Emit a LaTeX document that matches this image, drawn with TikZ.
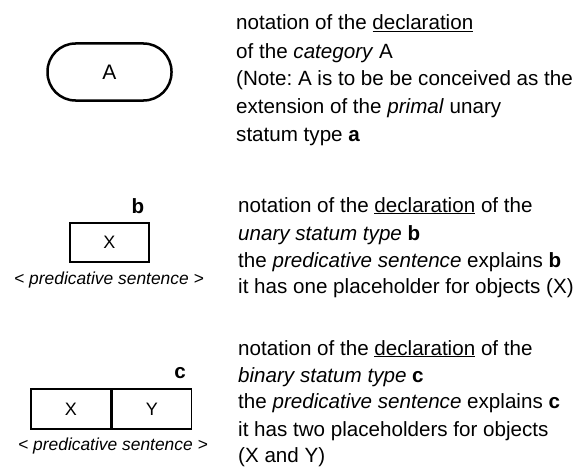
\documentclass[tikz,border=0pt]{standalone}
\usepackage{fontspec}
\setmainfont{Liberation Sans}
\frenchspacing
\begin{document}
\begin{tikzpicture}[x=1pt,y=-1pt,
  txt/.style={anchor=base west, inner sep=0pt, font=\fontsize{20.6}{24}\selectfont},
  lbl/.style={anchor=base, inner sep=0pt, font=\fontsize{20.6}{24}\selectfont\bfseries},
  pred/.style={anchor=base, inner sep=0pt, font=\fontsize{17.4}{20}\selectfont\itshape},
  cell/.style={draw, line width=1.5pt, inner sep=0pt, font=\fontsize{18}{20}\selectfont},
  catbox/.style={draw, line width=2.5pt, rounded corners=28pt, inner sep=0pt, font=\fontsize{21}{24}\selectfont}
]
\useasboundingbox (0,0) rectangle (577,468);
\fill[white] (0,0) rectangle (577,468);

% section 1
\node[catbox, minimum width=124pt, minimum height=57pt] (catA) at (109.5,72) {A};
\node[txt] (t1a) at (236,30) {notation of the \underline{declaration}};
\node[txt] (t1b) at (236,58.5) {of the \textit{category} A};
\node[txt] (t1c) at (236,86) {(Note: A is to be be conceived as the};
\node[txt] (t1d) at (236,113.5) {extension of the \textit{primal} unary};
\node[txt] (t1e) at (236,141) {statum type \textbf{a}};

% section 2
\node[cell, minimum width=79pt, minimum height=39pt] (bX) at (109.5,242.5) {X};
\node[lbl] (bl) at (138,213) {b};
\node[pred] (bp) at (109,284) {< predicative sentence >};
\node[txt] (t2a) at (238,212) {notation of the \underline{declaration} of the};
\node[txt] (t2b) at (238,240) {\textit{unary statum type} \textbf{b}};
\node[txt] (t2c) at (238,267) {the \textit{predicative sentence} explains \textbf{b}};
\node[txt] (t2d) at (238,293) {it has one placeholder for objects (X)};

% section 3
\node[cell, minimum width=80pt, minimum height=40pt] (cX) at (71,409) {X};
\node[cell, minimum width=79pt, minimum height=40pt, anchor=west] (cY) at (cX.east) {Y};
\node[lbl] (cl) at (180,378) {c};
\node[pred] (cp) at (113,450) {< predicative sentence >};
\node[txt] (t3a) at (238,355) {notation of the \underline{declaration} of the};
\node[txt] (t3b) at (238,382) {\textit{binary statum type} \textbf{c}};
\node[txt] (t3c) at (238,408) {the \textit{predicative sentence} explains \textbf{c}};
\node[txt] (t3d) at (238,436) {it has two placeholders for objects};
\node[txt] (t3e) at (238,462) {(X and Y)};
\end{tikzpicture}
\end{document}
